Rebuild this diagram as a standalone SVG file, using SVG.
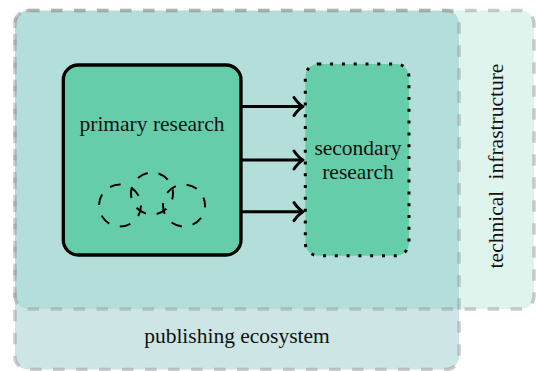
<svg xmlns="http://www.w3.org/2000/svg" width="536" height="371" viewBox="0 0 536 371">
  <style>
    .lbl { font-family: "Liberation Serif", "DejaVu Serif", serif; font-size: 21.5px; fill: #111; }
    .area { stroke: #999; stroke-opacity: 0.5; stroke-width: 3.5; stroke-dasharray: 11.5 11.5; fill: none; }
    .box { fill: #66cdaa; }
    .arrow { stroke: #000; stroke-width: 3; fill: none; }
    .head { stroke: #000; stroke-width: 3; fill: none; stroke-linecap: round; stroke-linejoin: round; }
  </style>
  <defs>
    <clipPath id="pubClip">
      <rect x="15" y="10.5" width="444" height="359" rx="13"/>
    </clipPath>
  </defs>

  <g id="publishing-ecosystem">
    <rect x="15" y="10.5" width="444" height="359" rx="13" fill="#cde6e5"/>
  </g>
  <g id="technical-infrastructure">
    <rect x="15" y="10.5" width="519" height="298.5" rx="13" fill="#e0f4ee"/>
    <rect x="15" y="10.5" width="519" height="298.5" rx="13" fill="#b3ded9" clip-path="url(#pubClip)"/>
  </g>
  <g id="area-borders">
    <rect class="area" x="15" y="10.5" width="444" height="359" rx="13"/>
    <rect class="area" x="15" y="10.5" width="519" height="298.5" rx="13"/>
    <text class="lbl" x="237" y="343" text-anchor="middle">publishing ecosystem</text>
    <text class="lbl" transform="translate(503,166) rotate(-90)" text-anchor="middle" word-spacing="6">technical infrastructure</text>
  </g>

  <g id="primary-research">
    <rect class="box" x="63.3" y="65" width="177.7" height="190" rx="15" stroke="#000" stroke-width="3.3"/>
    <text class="lbl" x="152" y="131" text-anchor="middle">primary research</text>
    <g fill="none" stroke="#000" stroke-width="2" stroke-dasharray="11 11">
      <circle cx="120" cy="205.5" r="21"/>
      <circle cx="152" cy="193.5" r="21" stroke-dashoffset="5"/>
      <circle cx="184" cy="205.5" r="21" stroke-dashoffset="9"/>
    </g>
  </g>

  <g id="secondary-research">
    <rect class="box" x="305.3" y="64" width="103.7" height="191.7" rx="13" stroke="#000" stroke-width="3" stroke-dasharray="3 8.8"/>
    <text class="lbl" x="358" y="155" text-anchor="middle">secondary</text>
    <text class="lbl" x="358" y="179" text-anchor="middle">research</text>
  </g>

  <g id="connectors">
    <path class="arrow" d="M241 106.5 H302"/>
    <path class="head" d="M294 97.5 Q298.5 104 303 106.5 Q298.5 109 294 115.5"/>
    <path class="arrow" d="M241 160 H302"/>
    <path class="head" d="M294 151 Q298.5 157.5 303 160 Q298.5 162.5 294 169"/>
    <path class="arrow" d="M241 211.7 H302"/>
    <path class="head" d="M294 202.7 Q298.5 209.2 303 211.7 Q298.5 214.2 294 220.7"/>
  </g>
</svg>
